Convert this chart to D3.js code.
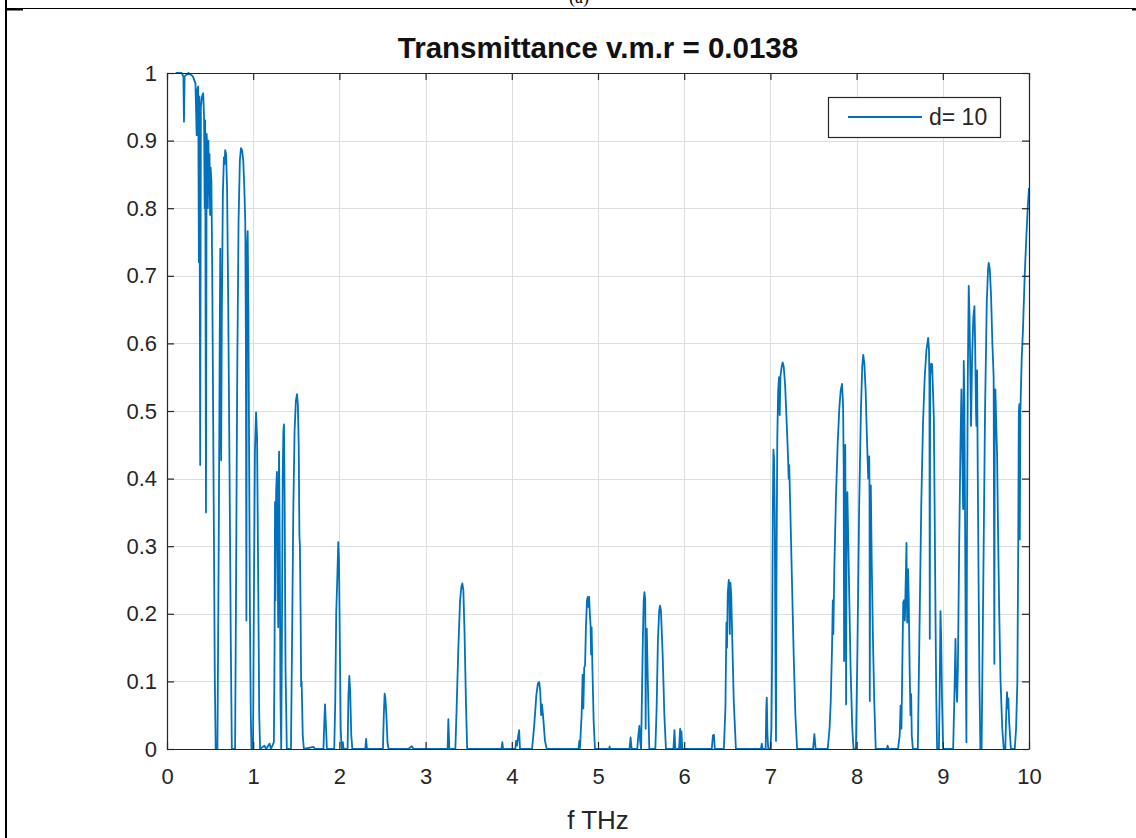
<!DOCTYPE html>
<html>
<head>
<meta charset="utf-8">
<script src="https://cdn.jsdelivr.net/npm/d3@7"></script>
<style>
  body { margin: 0; background: #fff; }
  text { font-family: "Liberation Sans", Arial, Helvetica, sans-serif; }
</style>
</head>
<body>
<svg id="fig" width="1136" height="838"></svg>
<script>
// ---- chart text ----
const titleText = "Transmittance v.m.r = 0.0138";
const xLabelText = "f THz";
const legendLabel = "d= 10";
const panelTag = "(a)";

// ---- ticks ----
const xTicks = [0, 1, 2, 3, 4, 5, 6, 7, 8, 9, 10];
const xTickLabels = ["0", "1", "2", "3", "4", "5", "6", "7", "8", "9", "10"];
const yTicks = [0, 0.1, 0.2, 0.3, 0.4, 0.5, 0.6, 0.7, 0.8, 0.9, 1];
const yTickLabels = ["0", "0.1", "0.2", "0.3", "0.4", "0.5", "0.6", "0.7", "0.8", "0.9", "1"];

// ---- transmittance spectrum: [frequency (THz), transmittance] ----
const spectrumLow = [
  [0.10,1.0],[0.17,1.0],[0.19,0.995],[0.197,0.928],[0.204,0.995],[0.25,1.0],[0.30,0.995],
  [0.33,0.985],[0.344,0.908],[0.35,0.975],[0.362,0.98],[0.37,0.72],[0.376,0.965],[0.385,0.42],
  [0.393,0.95],[0.405,0.965],[0.42,0.97],[0.43,0.935],[0.437,0.80],[0.443,0.93],[0.452,0.35],
  [0.46,0.91],[0.468,0.885],[0.474,0.80],[0.48,0.90],[0.487,0.82],[0.493,0.88],[0.50,0.79],
  [0.506,0.86],[0.515,0.84],[0.525,0.70],[0.54,0.40],[0.555,0.10],[0.565,0.0],[0.585,0.0],
  [0.60,0.30],[0.612,0.62],[0.618,0.74],[0.622,0.50],[0.628,0.427],[0.636,0.64],[0.648,0.82],
  [0.66,0.875],[0.667,0.865],[0.675,0.886],[0.686,0.88],[0.697,0.83],[0.71,0.66],[0.725,0.42],
  [0.74,0.16],[0.752,0.0],[0.79,0.0],[0.80,0.22],[0.815,0.56],[0.83,0.78],[0.845,0.87],
  [0.858,0.889],[0.872,0.885],[0.885,0.87],[0.897,0.83],[0.908,0.78],[0.915,0.60],[0.921,0.19],
  [0.927,0.74],[0.936,0.766],[0.944,0.65],[0.952,0.45],[0.962,0.20],[0.972,0.05],[0.98,0.0],
  [0.998,0.0],[1.008,0.22],[1.02,0.44],[1.033,0.498],[1.045,0.46],[1.058,0.25],[1.07,0.05],
  [1.08,0.0],[1.13,0.005],[1.15,0.0],[1.19,0.008],[1.205,0.0],[1.24,0.01],[1.248,0.15],
  [1.253,0.365],[1.258,0.22],[1.266,0.38],[1.275,0.41],[1.283,0.30],[1.29,0.18],[1.295,0.36],
  [1.30,0.44],[1.308,0.30],[1.316,0.08],[1.325,0.0],[1.332,0.14],[1.342,0.40],[1.35,0.47],
  [1.357,0.48],[1.365,0.36],[1.375,0.12],[1.39,0.0],[1.438,0.0],[1.45,0.15],[1.465,0.35],
  [1.48,0.47],[1.495,0.515],[1.508,0.525],[1.518,0.51],[1.528,0.45],[1.536,0.316],[1.542,0.30],
  [1.55,0.20],[1.556,0.093],[1.562,0.10],[1.575,0.02],[1.588,0.0],[1.70,0.003],[1.72,0.0],
  [1.815,0.0],[1.825,0.04],[1.833,0.066],[1.842,0.04],[1.855,0.0],[1.94,0.0],[1.952,0.07],
  [1.963,0.20],[1.975,0.25],[1.987,0.306],[1.995,0.28],[2.005,0.16],[2.015,0.03],[2.022,0.012],
  [2.03,0.0],[2.04,0.01],[2.05,0.0],[2.095,0.0],[2.105,0.08],[2.115,0.108],[2.125,0.085],
  [2.138,0.02],[2.15,0.0],[2.30,0.0],[2.31,0.015],[2.32,0.0],[2.505,0.0],[2.515,0.05],
  [2.525,0.082],[2.533,0.076],[2.545,0.05],[2.558,0.01],[2.57,0.0],[2.80,0.0],[2.84,0.004],
  [2.86,0.0]
];
const spectrumMid = [
  [3.255,0.0],[3.264,0.044],[3.275,0.0],[3.345,0.0],[3.36,0.06],[3.38,0.15],[3.40,0.22],
  [3.415,0.24],[3.426,0.245],[3.438,0.235],[3.452,0.17],[3.468,0.07],[3.482,0.0],[3.88,0.0],
  [3.89,0.01],[3.90,0.0],[4.04,0.0],[4.05,0.012],[4.06,0.005],[4.075,0.02],[4.085,0.028],
  [4.095,0.0],[4.235,0.0],[4.26,0.035],[4.285,0.08],[4.303,0.097],[4.318,0.099],[4.33,0.085],
  [4.34,0.05],[4.35,0.066],[4.362,0.05],[4.385,0.012],[4.405,0.0],[4.775,0.0],[4.783,0.012],
  [4.79,0.0],[4.81,0.05],[4.822,0.11],[4.83,0.06],[4.84,0.12],[4.85,0.124],[4.86,0.18],
  [4.872,0.22],[4.882,0.225],[4.89,0.21],[4.897,0.225],[4.905,0.20],[4.913,0.185],[4.92,0.14],
  [4.926,0.18],[4.935,0.12],[4.95,0.04],[4.965,0.0],[5.13,0.0],[5.135,0.004],[5.14,0.0],
  [5.365,0.0],[5.378,0.017],[5.39,0.0],[5.455,0.0],[5.468,0.02],[5.48,0.034],[5.49,0.01],
  [5.50,0.0],[5.51,0.08],[5.52,0.16],[5.53,0.22],[5.539,0.232],[5.548,0.22],[5.553,0.03],
  [5.558,0.17],[5.566,0.178],[5.578,0.10],[5.595,0.0],[5.665,0.0],[5.68,0.06],[5.695,0.16],
  [5.71,0.205],[5.72,0.212],[5.73,0.205],[5.75,0.14],[5.77,0.05],[5.788,0.0],[5.875,0.0],
  [5.887,0.028],[5.897,0.0],[5.94,0.0],[5.953,0.03],[5.96,0.0],[5.968,0.026],[5.978,0.0],
  [6.32,0.0],[6.333,0.02],[6.345,0.021],[6.355,0.0]
];
const spectrumHigh = [
  [6.46,0.0],[6.478,0.06],[6.49,0.187],[6.497,0.15],[6.505,0.23],[6.517,0.25],[6.523,0.24],
  [6.529,0.17],[6.536,0.246],[6.545,0.23],[6.558,0.16],[6.575,0.07],[6.60,0.0],[6.89,0.0],
  [6.90,0.008],[6.91,0.0],[6.945,0.0],[6.952,0.06],[6.958,0.076],[6.966,0.02],[6.975,0.0],
  [7.0,0.0],[7.012,0.03],[7.02,0.14],[7.028,0.35],[7.035,0.443],[7.042,0.43],[7.05,0.35],
  [7.058,0.15],[7.065,0.012],[7.07,0.25],[7.08,0.46],[7.09,0.53],[7.10,0.55],[7.108,0.494],
  [7.116,0.55],[7.13,0.565],[7.142,0.572],[7.155,0.565],[7.17,0.54],[7.19,0.48],[7.205,0.43],
  [7.212,0.40],[7.218,0.42],[7.23,0.36],[7.25,0.25],[7.27,0.14],[7.29,0.05],[7.31,0.0],
  [7.495,0.0],[7.51,0.022],[7.525,0.0],[7.665,0.0],[7.686,0.03],[7.70,0.07],[7.715,0.15],
  [7.724,0.22],[7.73,0.17],[7.742,0.27],[7.76,0.37],[7.78,0.45],[7.80,0.505],[7.815,0.53],
  [7.831,0.54],[7.843,0.51],[7.85,0.42],[7.855,0.13],[7.861,0.44],[7.868,0.45],[7.874,0.30],
  [7.878,0.066],[7.884,0.35],[7.893,0.38],[7.91,0.26],[7.93,0.12],[7.95,0.03],[7.965,0.0],
  [7.992,0.0],[8.01,0.15],[8.03,0.36],[8.05,0.50],[8.065,0.565],[8.077,0.583],[8.09,0.57],
  [8.105,0.53],[8.12,0.46],[8.135,0.40],[8.146,0.433],[8.15,0.38],[8.153,0.071],[8.158,0.36],
  [8.165,0.39],[8.175,0.28],[8.19,0.16],[8.205,0.07],[8.222,0.0],[8.35,0.0],[8.36,0.005],
  [8.37,0.0],[8.48,0.0],[8.50,0.02],[8.51,0.064],[8.52,0.03],[8.53,0.12],[8.541,0.217],
  [8.55,0.22],[8.56,0.19],[8.57,0.25],[8.579,0.305],[8.583,0.22],[8.587,0.187],[8.592,0.26],
  [8.597,0.266],[8.605,0.22],[8.615,0.12],[8.625,0.05],[8.633,0.081],[8.64,0.02],[8.653,0.0],
  [8.71,0.0],[8.73,0.18],[8.75,0.36],[8.77,0.48],[8.79,0.55],[8.81,0.59],[8.83,0.608],
  [8.84,0.59],[8.845,0.54],[8.849,0.163],[8.853,0.55],[8.865,0.57],[8.876,0.569],[8.886,0.53],
  [8.896,0.49],[8.905,0.36],[8.915,0.20],[8.925,0.07],[8.934,0.0],[8.955,0.0],[8.965,0.10],
  [8.973,0.204],[8.98,0.17],[8.99,0.08],[9.004,0.0],[9.12,0.0],[9.135,0.08],[9.147,0.163],
  [9.155,0.10],[9.166,0.07],[9.175,0.12],[9.19,0.30],[9.205,0.45],[9.216,0.532],[9.225,0.45],
  [9.236,0.355],[9.243,0.574],[9.25,0.52],[9.26,0.30],[9.268,0.10],[9.274,0.01],[9.28,0.30],
  [9.29,0.55],[9.301,0.685],[9.31,0.64],[9.32,0.55],[9.328,0.478],[9.34,0.58],[9.355,0.64],
  [9.367,0.655],[9.375,0.60],[9.385,0.50],[9.39,0.478],[9.398,0.56],[9.405,0.42],[9.415,0.25],
  [9.425,0.10],[9.436,0.0],[9.45,0.0],[9.47,0.25],[9.49,0.50],[9.51,0.66],[9.525,0.71],
  [9.533,0.719],[9.545,0.71],[9.56,0.67],[9.575,0.60],[9.59,0.55],[9.598,0.126],[9.603,0.50],
  [9.61,0.532],[9.62,0.48],[9.63,0.435],[9.64,0.33],[9.655,0.20],[9.67,0.10],[9.69,0.03],
  [9.707,0.0],[9.725,0.0],[9.735,0.05],[9.745,0.084],[9.752,0.06],[9.76,0.075],[9.77,0.04],
  [9.79,0.0],[9.835,0.0],[9.85,0.03],[9.865,0.10],[9.875,0.30],[9.882,0.50],[9.888,0.51],
  [9.893,0.31],[9.90,0.50],[9.915,0.576],[9.93,0.62],[9.95,0.70],[9.97,0.76],[9.985,0.80],
  [10.0,0.83]
];
const spectrum = spectrumLow.concat(spectrumMid, spectrumHigh);

// ---- layout ----
const W = 1136, H = 838;
const box = { left: 167, right: 1029, top: 73, bottom: 749 };
const axisColor = "#262626";
const gridColor = "#dedede";
const lineColor = "#0072bd";
const tickLen = 7;

const x = d3.scaleLinear().domain([0, 10]).range([box.left, box.right]);
const y = d3.scaleLinear().domain([0, 1]).range([box.bottom, box.top]);

const svg = d3.select("#fig");
svg.append("rect").attr("width", W).attr("height", H).attr("fill", "#fff");

// page frame around the panel
const frame = svg.append("g").attr("stroke", "#000").attr("fill", "none");
frame.append("line").attr("x1", 6).attr("x2", 6).attr("y1", 0).attr("y2", H).attr("stroke-width", 2);
frame.append("line").attr("x1", 6).attr("x2", W).attr("y1", 8.5).attr("y2", 8.5).attr("stroke-width", 1.2);
frame.append("line").attr("x1", 6).attr("x2", 23).attr("y1", 9.5).attr("y2", 9.5).attr("stroke-width", 2);
frame.append("line").attr("x1", 1132).attr("x2", W).attr("y1", 9.5).attr("y2", 9.5).attr("stroke-width", 2);
// panel tag sits in the strip above the frame line
svg.append("text").text(panelTag)
  .attr("x", 579).attr("y", 3).attr("text-anchor", "middle")
  .style("font-family", "'Liberation Serif', 'Times New Roman', serif")
  .style("font-size", "18px").attr("fill", "#000");

// grid
const grid = svg.append("g").attr("stroke", gridColor).attr("stroke-width", 1);
grid.selectAll("line.gx").data(xTicks.slice(1, -1)).join("line")
  .attr("x1", d => Math.round(x(d)) + 0.5).attr("x2", d => Math.round(x(d)) + 0.5)
  .attr("y1", box.top).attr("y2", box.bottom);
grid.selectAll("line.gy").data(yTicks.slice(1, -1)).join("line")
  .attr("y1", d => Math.round(y(d)) + 0.5).attr("y2", d => Math.round(y(d)) + 0.5)
  .attr("x1", box.left).attr("x2", box.right);

// data curve
svg.append("clipPath").attr("id", "plotClip").append("rect")
  .attr("x", box.left).attr("y", box.top - 2)
  .attr("width", box.right - box.left).attr("height", box.bottom - box.top + 2);
const line = d3.line().x(d => x(d[0])).y(d => y(d[1]));
svg.append("path").datum(spectrum)
  .attr("clip-path", "url(#plotClip)")
  .attr("d", line).attr("fill", "none")
  .attr("stroke", lineColor).attr("stroke-width", 1.8)
  .attr("stroke-linejoin", "round");

// axes (inward ticks on all four sides)
function styleAxis(g) {
  g.select(".domain").attr("stroke", axisColor).attr("stroke-width", 1.2);
  g.selectAll(".tick line").attr("stroke", axisColor).attr("stroke-width", 1.2);
  g.selectAll(".tick text").attr("fill", axisColor)
    .style("font-family", "'Liberation Sans', Arial, sans-serif").style("font-size", "22px");
}
svg.append("g").attr("transform", `translate(0,${box.bottom})`)
  .call(d3.axisBottom(x).tickValues(xTicks).tickFormat((d, i) => xTickLabels[i])
    .tickSizeInner(-tickLen).tickSizeOuter(0).tickPadding(19))
  .call(styleAxis);
svg.append("g").attr("transform", `translate(0,${box.top})`)
  .call(d3.axisTop(x).tickValues(xTicks).tickFormat("")
    .tickSizeInner(-tickLen).tickSizeOuter(0))
  .call(styleAxis);
svg.append("g").attr("transform", `translate(${box.left},0)`)
  .call(d3.axisLeft(y).tickValues(yTicks).tickFormat((d, i) => yTickLabels[i])
    .tickSizeInner(-tickLen).tickSizeOuter(0).tickPadding(10))
  .call(styleAxis);
svg.append("g").attr("transform", `translate(${box.right},0)`)
  .call(d3.axisRight(y).tickValues(yTicks).tickFormat("")
    .tickSizeInner(-tickLen).tickSizeOuter(0))
  .call(styleAxis);

// title and axis label
svg.append("text").text(titleText)
  .attr("x", (box.left + box.right) / 2).attr("y", 58)
  .attr("text-anchor", "middle").attr("fill", "#111")
  .style("font-size", "29.5px").style("font-weight", "bold");
svg.append("text").text(xLabelText)
  .attr("x", (box.left + box.right) / 2).attr("y", 829)
  .attr("text-anchor", "middle").attr("fill", axisColor)
  .style("font-size", "26px");

// legend
const legend = svg.append("g");
legend.append("rect").attr("x", 828.5).attr("y", 97.5).attr("width", 172).attr("height", 40)
  .attr("fill", "#fff").attr("stroke", axisColor).attr("stroke-width", 1.2);
legend.append("line").attr("x1", 848).attr("x2", 922).attr("y1", 117).attr("y2", 117)
  .attr("stroke", lineColor).attr("stroke-width", 1.8);
legend.append("text").text(legendLabel).attr("x", 929).attr("y", 125)
  .attr("fill", axisColor).style("font-size", "23px");
</script>
</body>
</html>
